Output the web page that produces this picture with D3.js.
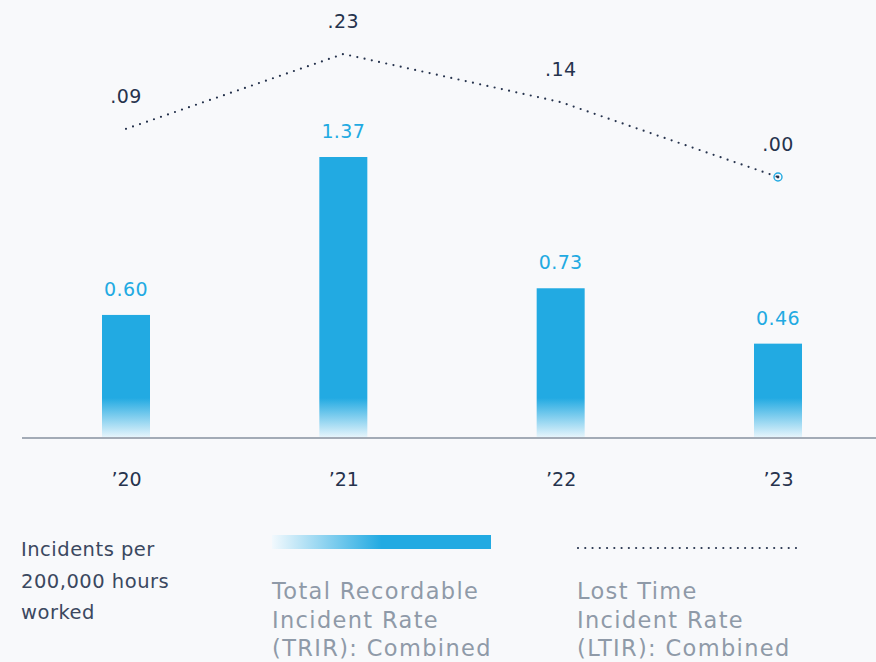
<!DOCTYPE html>
<html>
<head>
<meta charset="utf-8">
<script src="https://cdn.jsdelivr.net/npm/d3@7/dist/d3.min.js"></script>
<style>
  html, body { margin: 0; padding: 0; background: #f8f9fb; }
  svg { display: block; font-family: "DejaVu Sans", "Noto Sans", sans-serif; }
</style>
</head>
<body>
<svg id="chart" width="876" height="662"></svg>
<script>
// Safety incident rates by year
const years = ["\u201920", "\u201921", "\u201922", "\u201923"];
const trir = [0.60, 1.37, 0.73, 0.46];
const ltir = [0.09, 0.23, 0.14, 0.00];
const trirLabels = ["0.60", "1.37", "0.73", "0.46"];
const ltirLabels = [".09", ".23", ".14", ".00"];
const unitNote = ["Incidents per", "200,000 hours", "worked"];
const trirLegend = ["Total Recordable", "Incident Rate", "(TRIR): Combined"];
const ltirLegend = ["Lost Time", "Incident Rate", "(LTIR): Combined"];

const blue = "#22aae2";
const navy = "#26334d";
const grey = "#8f9aa8";
const baseY = 438;

const svg = d3.select("#chart");
const defs = svg.append("defs");

// vertical fade at the foot of each bar
const barGrad = defs.append("linearGradient")
  .attr("id", "barFade").attr("gradientUnits", "userSpaceOnUse")
  .attr("x1", 0).attr("x2", 0).attr("y1", 398).attr("y2", baseY);
barGrad.append("stop").attr("offset", "0%").attr("stop-color", blue);
barGrad.append("stop").attr("offset", "100%").attr("stop-color", "#eaf6fc");

// horizontal fade for the legend swatch
const legGrad = defs.append("linearGradient")
  .attr("id", "legFade").attr("x1", 0).attr("x2", 1).attr("y1", 0).attr("y2", 0);
legGrad.append("stop").attr("offset", "0%").attr("stop-color", "#f2f9fd");
legGrad.append("stop").attr("offset", "50%").attr("stop-color", blue);
legGrad.append("stop").attr("offset", "100%").attr("stop-color", blue);

const x = d3.scalePoint().domain(years).range([126, 778]);
const yBar = d3.scaleLinear().domain([0, 1.37]).range([baseY, 157]);
const yLine = d3.scaleLinear().domain([0, 0.23]).range([177, 54]);

const barW = 48;

// bars
svg.append("g").selectAll("rect").data(trir).join("rect")
  .attr("x", (d, i) => x(years[i]) - barW / 2)
  .attr("y", d => yBar(d))
  .attr("width", barW)
  .attr("height", d => baseY - yBar(d))
  .attr("fill", "url(#barFade)");

// bar value labels
svg.append("g").selectAll("text").data(trir).join("text")
  .attr("x", (d, i) => x(years[i]))
  .attr("y", d => yBar(d) - 19)
  .attr("text-anchor", "middle")
  .attr("font-size", 19)
  .attr("letter-spacing", 0.4)
  .attr("fill", blue)
  .text((d, i) => trirLabels[i]);

// baseline
svg.append("line")
  .attr("x1", 22).attr("x2", 876).attr("y1", baseY).attr("y2", baseY)
  .attr("stroke", "#a3abb6").attr("stroke-width", 2);

// year axis
const axis = svg.append("g")
  .attr("transform", `translate(0,${baseY})`)
  .call(d3.axisBottom(x).tickSize(0).tickPadding(35));
axis.select(".domain").remove();
axis.selectAll("text")
  .attr("font-size", 19).attr("fill", navy)
  .attr("font-family", "'DejaVu Sans', 'Noto Sans', sans-serif");

// dotted LTIR line
const line = d3.line().x((d, i) => x(years[i])).y(d => yLine(d));
svg.append("path")
  .datum(ltir)
  .attr("d", line)
  .attr("fill", "none")
  .attr("stroke", navy)
  .attr("stroke-width", 2.2)
  .attr("stroke-linecap", "round")
  .attr("stroke-dasharray", "0 7.4");

// end marker
const last = ltir.length - 1;
svg.append("circle")
  .attr("cx", x(years[last])).attr("cy", yLine(ltir[last])).attr("r", 4)
  .attr("fill", "none").attr("stroke", blue).attr("stroke-width", 1.4);
svg.append("circle")
  .attr("cx", x(years[last])).attr("cy", yLine(ltir[last])).attr("r", 1.4)
  .attr("fill", navy);

// LTIR value labels
svg.append("g").selectAll("text").data(ltir).join("text")
  .attr("x", (d, i) => x(years[i]))
  .attr("y", d => yLine(d) - 26)
  .attr("text-anchor", "middle")
  .attr("font-size", 19)
  .attr("letter-spacing", 0.4)
  .attr("fill", navy)
  .text((d, i) => ltirLabels[i]);

// unit note
svg.append("text")
  .attr("x", 21).attr("y", 556)
  .attr("font-size", 19.5).attr("letter-spacing", 0.5).attr("fill", "#3b4860")
  .selectAll("tspan").data(unitNote).join("tspan")
  .attr("x", 21).attr("dy", (d, i) => i ? 31.5 : 0)
  .text(d => d);

// legend: TRIR
svg.append("rect")
  .attr("x", 272).attr("y", 535).attr("width", 219).attr("height", 14)
  .attr("fill", "url(#legFade)");
svg.append("text")
  .attr("x", 272).attr("y", 599)
  .attr("font-size", 22.5).attr("letter-spacing", 1.35).attr("fill", grey)
  .selectAll("tspan").data(trirLegend).join("tspan")
  .attr("x", 272).attr("dy", (d, i) => i ? 28.5 : 0)
  .text(d => d);

// legend: LTIR
svg.append("line")
  .attr("x1", 578).attr("x2", 796).attr("y1", 548).attr("y2", 548)
  .attr("stroke", navy).attr("stroke-width", 2.2)
  .attr("stroke-linecap", "round").attr("stroke-dasharray", "0 7.266");
svg.append("text")
  .attr("x", 577).attr("y", 599)
  .attr("font-size", 22.5).attr("letter-spacing", 1.35).attr("fill", grey)
  .selectAll("tspan").data(ltirLegend).join("tspan")
  .attr("x", 577).attr("dy", (d, i) => i ? 28.5 : 0)
  .text(d => d);
</script>
</body>
</html>
